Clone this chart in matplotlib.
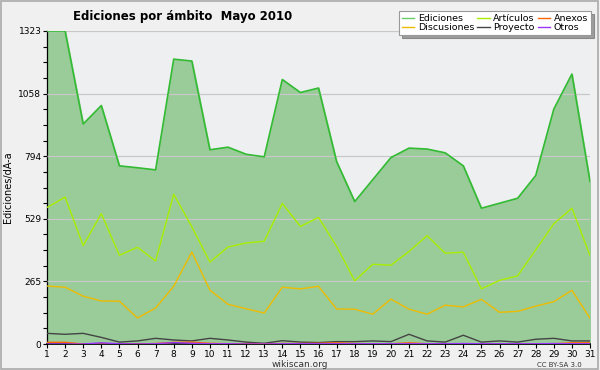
import matplotlib
matplotlib.use("Agg")
from matplotlib import pyplot as plt
from matplotlib.ticker import FixedLocator
from matplotlib.lines import Line2D
import numpy as np

days = list(range(1, 32))

ediciones = [1323, 1323, 930, 1008, 753, 745, 736, 1204, 1196, 821, 832, 802, 791, 1118, 1063, 1082,
             771, 602, 695, 788, 828, 824, 808, 753, 574, 595, 616, 712, 993, 1141, 687]
articulos = [577, 621, 416, 551, 375, 409, 351, 633, 496, 346, 410, 427, 434, 594, 497, 535,
             413, 267, 337, 333, 391, 458, 384, 388, 233, 269, 288, 398, 508, 574, 374]
discusiones = [245, 240, 202, 182, 181, 110, 152, 244, 389, 228, 168, 149, 131, 240, 233, 244,
               148, 147, 126, 190, 147, 126, 164, 157, 189, 134, 138, 160, 179, 227, 109]
proyecto = [45, 41, 45, 28, 8, 13, 24, 17, 13, 24, 17, 8, 3, 14, 8, 6,
            10, 10, 13, 10, 41, 13, 8, 37, 8, 13, 8, 20, 24, 13, 13]
anexos = [7, 7, 0, 0, 0, 0, 2, 7, 8, 3, 1, 1, 1, 2, 2, 3,
          5, 2, 1, 1, 5, 1, 1, 1, 1, 1, 1, 1, 1, 5, 5]
otros = [0, 0, 0, 5, 1, 0, 1, 6, 3, 1, 1, 0, 0, 1, 1, 1,
         1, 1, 1, 1, 1, 1, 1, 2, 1, 1, 1, 1, 2, 1, 1]

y_ticks = [0, 265, 529, 794, 1058, 1323]

fig = plt.figure(figsize=(6, 3.7), dpi=100, facecolor="#f0f0f0")
ax = fig.add_axes([47 / 600, 26 / 370, 543 / 600, 313 / 370], facecolor="#eeeff1")

# Ediciones filled area
ax.fill_between(days, ediciones, 0, color="#99cc99", zorder=1)
ax.plot(days, ediciones, color="#33bb33", lw=1.2, zorder=3)
ax.plot(days, articulos, color="#aaee00", lw=1.0, zorder=3)
ax.plot(days, discusiones, color="#eebb00", lw=1.0, zorder=3)
ax.plot(days, proyecto, color="#444444", lw=1.0, zorder=3)
ax.plot(days, anexos, color="#ff6600", lw=1.0, zorder=3)
ax.plot(days, otros, color="#9933ff", lw=1.0, zorder=3)

ax.set_xlim(1, 31)
ax.set_ylim(0, 1323)
ax.set_xticks(days)
ax.set_yticks(y_ticks)
ax.yaxis.set_minor_locator(FixedLocator(
    [v for i in range(5) for v in np.linspace(y_ticks[i], y_ticks[i + 1], 5)[1:-1]]))
ax.grid(axis="y", color="#c8c8c8", lw=0.9, zorder=2)
ax.set_axisbelow(False)
ax.tick_params(axis="both", labelsize=6.5, length=3, width=0.8, pad=1, colors="#000000")
ax.tick_params(axis="y", which="minor", length=3, width=0.8)
for s in ["top", "right"]:
    ax.spines[s].set_visible(False)
ax.spines["left"].set_linewidth(0.9)
ax.spines["bottom"].set_linewidth(1.2)

ax.set_ylabel("Ediciones/dÃ-a", fontsize=7, labelpad=4)
fig.text(0.305, 0.955, "Ediciones por ámbito  Mayo 2010", fontsize=8.5, fontweight="bold",
         ha="center", va="center")
fig.text(0.5, 0.014, "wikiscan.org", fontsize=6.5, ha="center", va="center", color="#333333")
fig.text(0.97, 0.014, "CC BY-SA 3.0", fontsize=5, ha="right", va="center", color="#333333")

handles = [
    Line2D([], [], color="#66cc66", lw=1), Line2D([], [], color="#eebb00", lw=1),
    Line2D([], [], color="#aaee00", lw=1), Line2D([], [], color="#444444", lw=1),
    Line2D([], [], color="#ff6600", lw=1), Line2D([], [], color="#9933ff", lw=1),
]
labels = ["Ediciones", "Discusiones", "Artículos", "Proyecto", "Anexos", "Otros"]
leg = fig.legend(handles, labels, ncol=3, loc="upper right", bbox_to_anchor=(0.988, 0.975),
                 fontsize=6.8, frameon=True, fancybox=False, shadow=True, handlelength=1.3,
                 handletextpad=0.4, columnspacing=0.3, labelspacing=0.05, borderpad=0.3,
                 borderaxespad=0.2)
leg.get_frame().set_edgecolor("#999999")
leg.get_frame().set_linewidth(0.8)

fig.patches.append(plt.Rectangle((0.002, 0.003), 0.995, 0.993, transform=fig.transFigure,
                                 fill=False, edgecolor="#aaaaaa", lw=1.2))
fig.savefig("out.png", dpi=100, facecolor=fig.get_facecolor())
